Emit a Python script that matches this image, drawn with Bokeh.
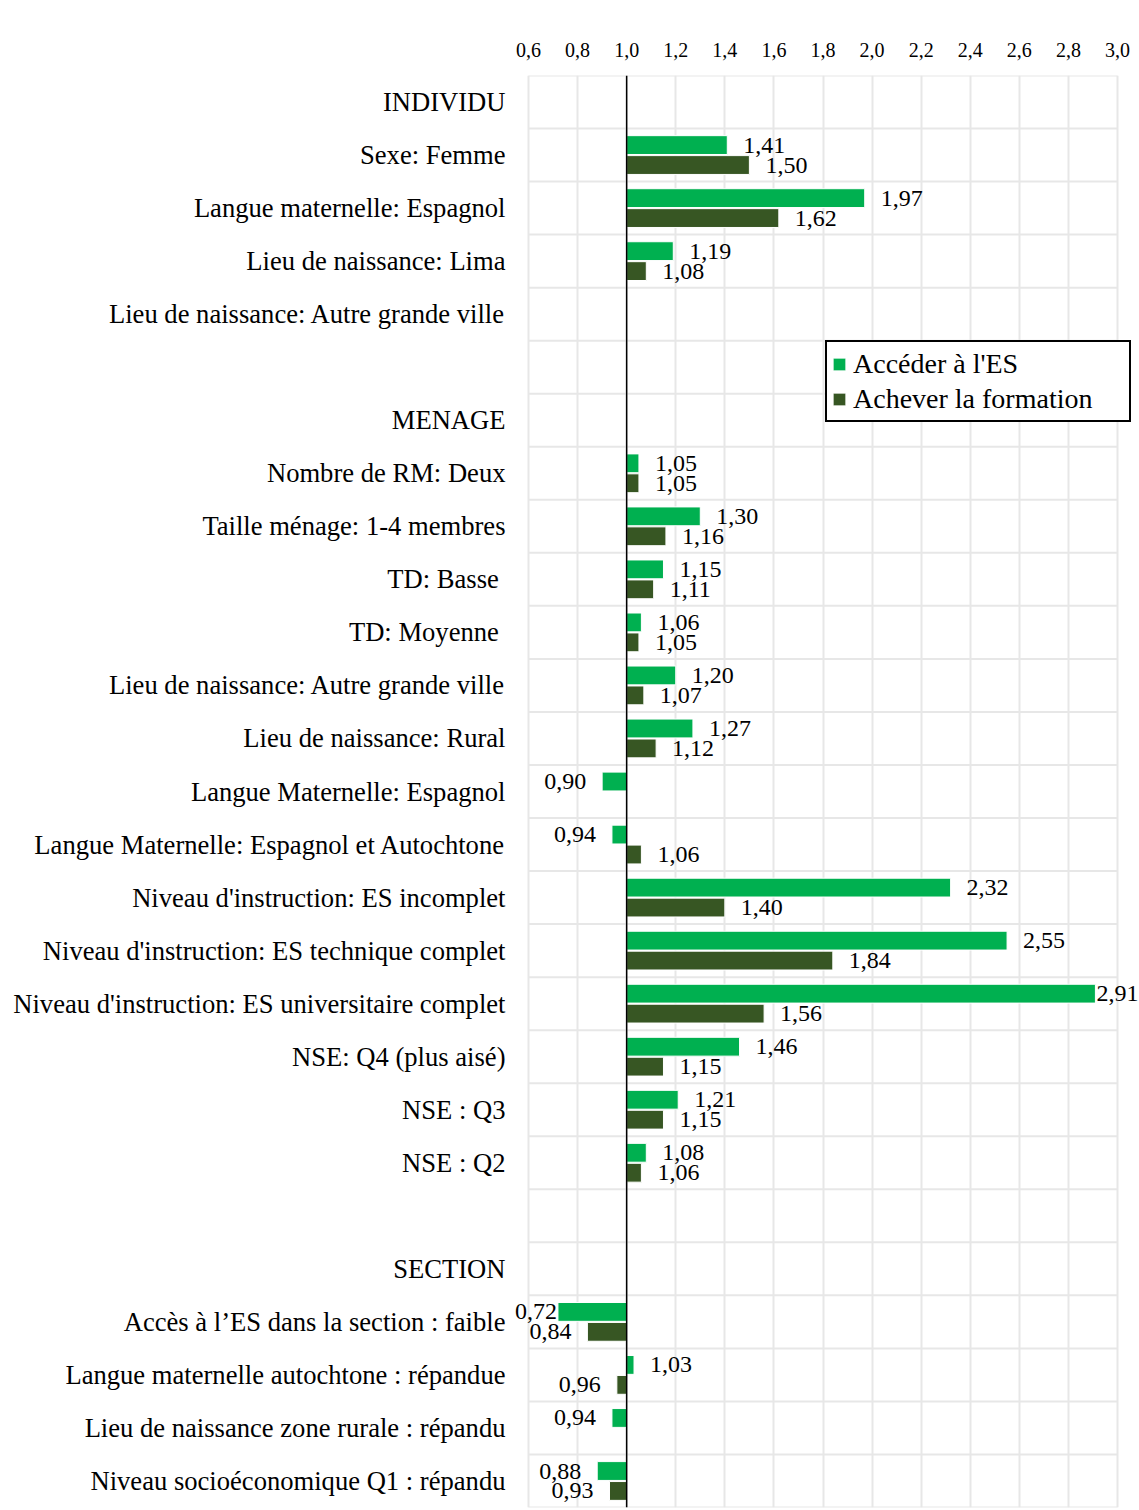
from bokeh.plotting import figure
from bokeh.models import (Range1d, FixedTicker, CustomJSTickFormatter, Span,
                          Legend, LegendItem, ColumnDataSource, BoxAnnotation)
from bokeh.embed import file_html
from bokeh.resources import INLINE
from bokeh.core.properties import value

# ---------------- data ----------------
categories = [
    "INDIVIDU",
    "Sexe: Femme",
    "Langue maternelle: Espagnol",
    "Lieu de naissance: Lima",
    "Lieu de naissance: Autre grande ville",
    "",
    "MENAGE",
    "Nombre de RM: Deux",
    "Taille ménage: 1-4 membres",
    "TD: Basse ",
    "TD: Moyenne ",
    "Lieu de naissance: Autre grande ville",
    "Lieu de naissance: Rural",
    "Langue Maternelle: Espagnol",
    "Langue Maternelle: Espagnol et Autochtone",
    "Niveau d'instruction: ES incomplet",
    "Niveau d'instruction: ES technique complet",
    "Niveau d'instruction: ES universitaire complet",
    "NSE: Q4 (plus aisé)",
    "NSE : Q3",
    "NSE : Q2",
    "",
    "SECTION",
    "Accès à l’ES dans la section : faible",
    "Langue maternelle autochtone : répandue",
    "Lieu de naissance zone rurale : répandu",
    "Niveau socioéconomique Q1 : répandu",
]
acceder = [None, 1.41, 1.97, 1.19, None, None,
           None, 1.05, 1.30, 1.15, 1.06, 1.20, 1.27, 0.90, 0.94, 2.32, 2.55, 2.91,
           1.46, 1.21, 1.08, None,
           None, 0.72, 1.03, 0.94, 0.88]
achever = [None, 1.50, 1.62, 1.08, None, None,
           None, 1.05, 1.16, 1.11, 1.05, 1.07, 1.12, None, 1.06, 1.40, 1.84, 1.56,
           1.15, 1.15, 1.06, None,
           None, 0.84, 0.96, None, 0.93]
series_names = ["Accéder à l'ES", "Achever la formation"]
x_ticks = [0.6, 0.8, 1.0, 1.2, 1.4, 1.6, 1.8, 2.0, 2.2, 2.4, 2.6, 2.8, 3.0]
baseline = 1.0

# ---------------- style / layout ----------------
GREEN = "#00B050"
DARK = "#375623"
FONT = "Liberation Serif"
GRID = "#e7e7e7"
BAR_H = 0.355
BAR_OFF = 0.188

W, H = 1139, 1510
FRAME_L, FRAME_R = 512, 1139          # frame in pixels (room for outer labels)
GRID_L, GRID_R = 528, 1117            # where 0.6 and 3.0 fall
PX = (GRID_R - GRID_L) / (x_ticks[-1] - x_ticks[0])
x_start = x_ticks[0] - (GRID_L - FRAME_L) / PX
x_end = x_ticks[-1] + (FRAME_R - GRID_R) / PX

n = len(categories)
p = figure(width=W, height=H, output_backend="svg", toolbar_location=None,
           x_range=Range1d(x_start, x_end),
           y_range=Range1d(n - 0.5, -0.5),
           x_axis_location="above",
           min_border_left=FRAME_L, min_border_right=W - FRAME_R,
           min_border_top=75, min_border_bottom=3)
p.outline_line_color = None
p.background_fill_color = "white"
p.border_fill_color = "white"

# outer chart border (light grey)
p.add_layout(BoxAnnotation(left=7, right=W + 20, top=11, bottom=H + 20,
                           left_units="canvas", right_units="canvas",
                           top_units="canvas", bottom_units="canvas",
                           fill_alpha=0, line_color="#d9d9d9", line_width=1.5,
                           level="underlay"))

# axes
xa = p.xaxis[0]
xa.ticker = FixedTicker(ticks=x_ticks)
xa.formatter = CustomJSTickFormatter(code="return tick.toFixed(1).replace('.', ',');")
xa.axis_line_color = None
xa.major_tick_line_color = None
xa.minor_tick_line_color = None
xa.major_tick_in = 0
xa.major_tick_out = 0
xa.major_label_standoff = 19
xa.major_label_text_font = FONT
xa.major_label_text_font_size = "20px"
xa.major_label_text_color = "black"

ya = p.yaxis[0]
ya.ticker = FixedTicker(ticks=list(range(n)))
ya.major_label_overrides = {i: c for i, c in enumerate(categories)}
ya.axis_line_color = None
ya.major_tick_line_color = None
ya.minor_tick_line_color = None
ya.major_tick_in = 0
ya.major_tick_out = 0
ya.major_label_standoff = 7
ya.major_label_text_font = FONT
ya.major_label_text_font_size = "26.6px"
ya.major_label_text_color = "black"

# grids: vertical at ticks, horizontal row separators limited to the tick span
p.xgrid.ticker = FixedTicker(ticks=x_ticks)
p.xgrid[0].grid_line_color = GRID
p.xgrid[0].grid_line_width = 2
p.ygrid.visible = False
seps = [i - 0.5 for i in range(n + 1)]
p.segment(x0=[x_ticks[0]] * len(seps), x1=[x_ticks[-1]] * len(seps),
          y0=seps, y1=seps, line_color=GRID, line_width=2)

# bars
def series_source(vals, shift):
    rows = [i for i, v in enumerate(vals) if v is not None]
    return ColumnDataSource(dict(
        y=[r + shift for r in rows],
        right=[vals[r] for r in rows],
    ))

g_src = series_source(acceder, -BAR_OFF)
d_src = series_source(achever, BAR_OFF)
g_r = p.hbar(y="y", left=baseline, right="right", height=BAR_H, source=g_src,
             fill_color=GREEN, line_color="white", line_width=1)
d_r = p.hbar(y="y", left=baseline, right="right", height=BAR_H, source=d_src,
             fill_color=DARK, line_color="white", line_width=1)

# data labels
def add_labels(vals, shift):
    for side in ("pos", "neg"):
        rows = [i for i, v in enumerate(vals) if v is not None and
                ((v >= baseline) if side == "pos" else (v < baseline))]
        if not rows:
            continue
        xs = [vals[r] for r in rows]
        offs = []
        for v in xs:
            o = 1 if (v > 2.8 or v < 0.75) else 16
            offs.append(o if side == "pos" else -o)
        src = ColumnDataSource(dict(
            x=xs, y=[r + shift for r in rows],
            t=[f"{v:.2f}".replace(".", ",") for v in xs],
            xo=offs,
        ))
        p.text(x="x", y="y", text="t", x_offset="xo", source=src,
               text_align="left" if side == "pos" else "right",
               text_baseline="middle", text_font=value(FONT),
               text_font_size="24px", text_color="black")

add_labels(acceder, -BAR_OFF)
add_labels(achever, BAR_OFF)

# baseline
p.add_layout(Span(location=baseline, dimension="height",
                  line_color="black", line_width=1.5))

# legend
legend = Legend(items=[LegendItem(label=series_names[0], renderers=[g_r]),
                       LegendItem(label=series_names[1], renderers=[d_r])],
                location=(825 - FRAME_L, 1507 - 422),
                border_line_color="black", border_line_width=2,
                border_line_alpha=1,
                background_fill_color="white", background_fill_alpha=1,
                label_text_font=FONT, label_text_font_size="28px",
                label_text_color="black",
                glyph_width=16, glyph_height=16, label_standoff=6,
                label_height=35, label_width=272, spacing=0, padding=4,
                margin=0)
p.add_layout(legend)

open("out.html", "w").write(file_html(p, INLINE))
